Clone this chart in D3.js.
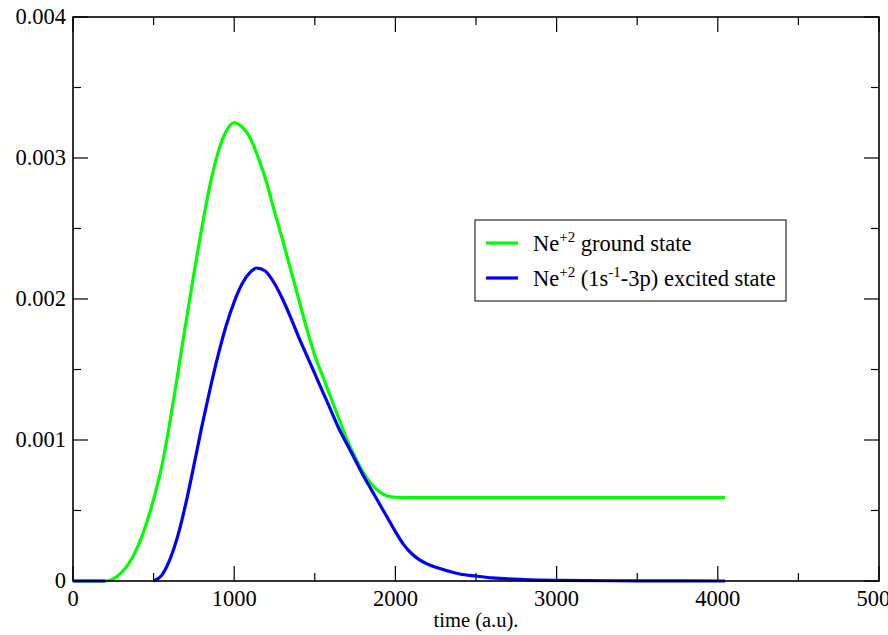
<!DOCTYPE html>
<html>
<head>
<meta charset="utf-8">
<script src="https://cdn.jsdelivr.net/npm/d3@7"></script>
<style>
  html, body { margin: 0; padding: 0; background: #fff; }
  svg { display: block; }
</style>
</head>
<body>
<script>
// ---- Data (y values in units of 1e-3) ----
const groundTime  = [0, 200, 250, 300, 350, 400, 450, 500, 550, 600, 650, 700, 750, 800, 850, 900, 950, 1000, 1050, 1100, 1150, 1200, 1250, 1300, 1350, 1400, 1450, 1500, 1550, 1600, 1650, 1700, 1750, 1800, 1850, 1900, 1950, 2000, 2100, 4045];
const groundValue = [0, 0, 0.015, 0.06, 0.13, 0.24, 0.39, 0.58, 0.81, 1.12, 1.47, 1.83, 2.18, 2.51, 2.81, 3.04, 3.19, 3.25, 3.22, 3.14, 3.00, 2.83, 2.62, 2.42, 2.21, 2.00, 1.79, 1.60, 1.45, 1.30, 1.15, 1.00, 0.88, 0.77, 0.69, 0.635, 0.603, 0.594, 0.592, 0.592];

const excitedTime  = [0, 200, 350, 500, 550, 600, 650, 700, 750, 800, 850, 900, 950, 1000, 1050, 1100, 1140, 1190, 1250, 1300, 1350, 1400, 1450, 1500, 1550, 1600, 1650, 1700, 1750, 1800, 1850, 1900, 1950, 2000, 2050, 2100, 2150, 2200, 2300, 2400, 2500, 2600, 2800, 3000, 3500, 4045];
const excitedValue = [0, 0, null, 0, 0.04, 0.15, 0.32, 0.55, 0.82, 1.10, 1.36, 1.60, 1.81, 1.98, 2.11, 2.19, 2.22, 2.20, 2.11, 2.00, 1.87, 1.73, 1.60, 1.47, 1.34, 1.21, 1.08, 0.97, 0.86, 0.75, 0.65, 0.55, 0.45, 0.35, 0.26, 0.195, 0.15, 0.12, 0.08, 0.05, 0.035, 0.022, 0.010, 0.005, 0.001, 0];

const xTicks = [0, 1000, 2000, 3000, 4000, 5000];
const xTickLabels = ["0", "1000", "2000", "3000", "4000", "5000"];
const yTicks = [0, 1, 2, 3, 4];
const yTickLabels = ["0", "0.001", "0.002", "0.003", "0.004"];
const xLabel = "time (a.u).";
const legendLabels = [
  { base: "Ne", parts: [["sup", "+2"], ["txt", " ground state"]], color: "#00ff00" },
  { base: "Ne", parts: [["sup", "+2"], ["txt", " (1s"], ["sup", "-1"], ["txt", "-3p) excited state"]], color: "#0000ff" }
];

// ---- Layout ----
const W = 888, H = 635;
const m = { left: 73, right: 879, top: 17, bottom: 581 };
const FONT = "Liberation Serif";

const svg = d3.select("body").append("svg").attr("width", W).attr("height", H);

const x = d3.scaleLinear().domain([0, 5000]).range([m.left, m.right]);
const y = d3.scaleLinear().domain([0, 4]).range([m.bottom, m.top]);

const minorX = d3.range(500, 5000, 1000);
const minorY = d3.range(0.5, 4, 1);

// Ticks (inward) on all four sides
const g = svg.append("g").attr("stroke", "#000").attr("stroke-width", 1.2);
xTicks.forEach(t => {
  g.append("line").attr("x1", x(t)).attr("x2", x(t)).attr("y1", m.bottom).attr("y2", m.bottom - 15);
  g.append("line").attr("x1", x(t)).attr("x2", x(t)).attr("y1", m.top).attr("y2", m.top + 15);
});
minorX.forEach(t => {
  g.append("line").attr("x1", x(t)).attr("x2", x(t)).attr("y1", m.bottom).attr("y2", m.bottom - 8);
  g.append("line").attr("x1", x(t)).attr("x2", x(t)).attr("y1", m.top).attr("y2", m.top + 8);
});
yTicks.forEach(t => {
  g.append("line").attr("x1", m.left).attr("x2", m.left + 15).attr("y1", y(t)).attr("y2", y(t));
  g.append("line").attr("x1", m.right).attr("x2", m.right - 15).attr("y1", y(t)).attr("y2", y(t));
});
minorY.forEach(t => {
  g.append("line").attr("x1", m.left).attr("x2", m.left + 8).attr("y1", y(t)).attr("y2", y(t));
  g.append("line").attr("x1", m.right).attr("x2", m.right - 8).attr("y1", y(t)).attr("y2", y(t));
});

// Tick labels
xTicks.forEach((t, i) => {
  svg.append("text").attr("x", x(t)).attr("y", 606).attr("text-anchor", "middle")
    .style("font-family", FONT).style("font-size", "22.5px").text(xTickLabels[i]);
});
yTicks.forEach((t, i) => {
  svg.append("text").attr("x", 66).attr("y", y(t)).attr("dy", "0.33em").attr("text-anchor", "end")
    .style("font-family", FONT).style("font-size", "22.5px").text(yTickLabels[i]);
});

svg.append("text").attr("x", (m.left + m.right) / 2).attr("y", 627).attr("text-anchor", "middle")
  .style("font-family", FONT).style("font-size", "20.5px").text(xLabel);

// Lines
const line = d3.line()
  .defined(d => d.v != null)
  .x(d => x(d.t)).y(d => y(d.v))
  .curve(d3.curveMonotoneX);

const ground = groundTime.map((t, i) => ({ t, v: groundValue[i] }));
const excited = excitedTime.map((t, i) => ({ t, v: excitedValue[i] }));

svg.append("path").datum(ground).attr("d", line).attr("fill", "none")
  .attr("stroke", "#00ff00").attr("stroke-width", 3.2).attr("stroke-linejoin", "round");
svg.append("path").datum(excited).attr("d", line).attr("fill", "none")
  .attr("stroke", "#0000ff").attr("stroke-width", 3.2).attr("stroke-linejoin", "round");

// Frame
svg.append("rect").attr("x", m.left).attr("y", m.top).attr("width", m.right - m.left)
  .attr("height", m.bottom - m.top).attr("fill", "none").attr("stroke", "#000").attr("stroke-width", 1.6);

// Legend
const lg = svg.append("g");
lg.append("rect").attr("x", 475).attr("y", 220).attr("width", 311).attr("height", 81)
  .attr("fill", "#fff").attr("stroke", "#000").attr("stroke-width", 1);
const rows = [243, 278];
legendLabels.forEach((L, i) => {
  lg.append("line").attr("x1", 486).attr("x2", 518).attr("y1", rows[i]).attr("y2", rows[i])
    .attr("stroke", L.color).attr("stroke-width", 3.2);
  const t = lg.append("text").attr("x", 533).attr("y", rows[i] + 8)
    .style("font-family", FONT).style("font-size", "22.5px");
  t.append("tspan").text(L.base);
  L.parts.forEach(p => {
    if (p[0] === "sup") {
      t.append("tspan").style("font-size", "15px").attr("dy", "-9").text(p[1]);
    } else {
      t.append("tspan").attr("dy", "9").text(p[1]);
    }
  });
});
</script>
</body>
</html>
